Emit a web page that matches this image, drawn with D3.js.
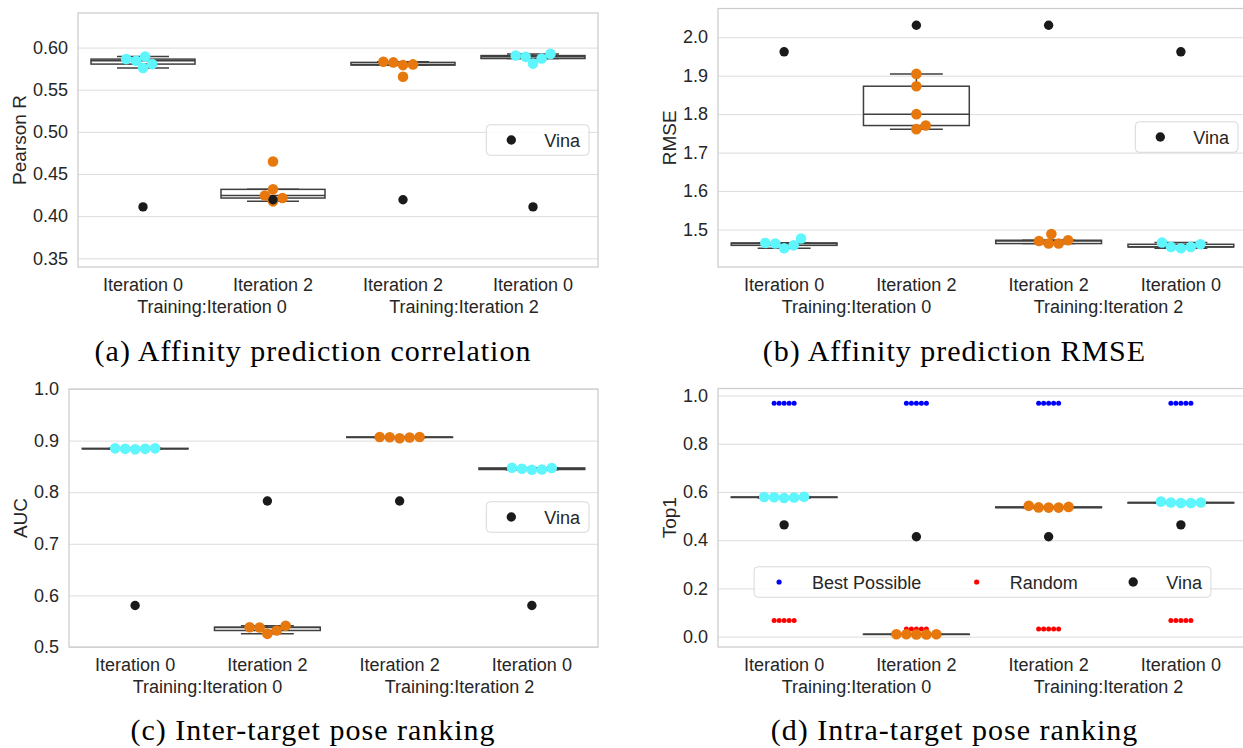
<!DOCTYPE html>
<html>
<head>
<meta charset="utf-8">
<script src="https://cdn.jsdelivr.net/npm/d3@7"></script>
<style>
  body { margin: 0; background: #fff; }
  svg { display: block; font-family: "Liberation Sans", Arial, sans-serif; }
</style>
</head>
<body>
<svg id="chart" width="1243" height="748"></svg>
<script>
// test set per column, grouped two by two under the training set
const categories = ['Iteration 0', 'Iteration 2', 'Iteration 2', 'Iteration 0']
const trainingGroups = ['Training:Iteration 0', 'Training:Iteration 2']
const swarmColors = ['#5ef6fc', '#e6780e', '#e6780e', '#5ef6fc']

// (a) Pearson R, 5 runs per column
const pearsonR = [
  [0.5894, 0.5804, 0.5843, 0.5757, 0.5863],
  [0.4649, 0.4318, 0.4215, 0.4246, 0.4176],
  [0.5831, 0.5800, 0.5792, 0.5824, 0.5654],
  [0.5925, 0.5870, 0.5810, 0.5890, 0.5905]
]
const pearsonVina = [0.411, 0.4195, 0.4195, 0.411]
const pearsonTicks = [0.35, 0.40, 0.45, 0.50, 0.55, 0.60]

// (b) RMSE
const rmse = [
  [1.4766, 1.4590, 1.4514, 1.4636, 1.4652],
  [1.9046, 1.8726, 1.8000, 1.7704, 1.7610],
  [1.4886, 1.4722, 1.4636, 1.4636, 1.4704],
  [1.4617, 1.4550, 1.4514, 1.4550, 1.4665]
]
const rmseVina = [1.962, 2.031, 2.031, 1.962]
const rmseTicks = [1.5, 1.6, 1.7, 1.8, 1.9, 2.0]

// (c) AUC
const auc = [
  [0.885, 0.884, 0.883, 0.884, 0.885],
  [0.541, 0.532, 0.5255, 0.5377, 0.5384],
  [0.907, 0.906, 0.9045, 0.9065, 0.907],
  [0.847, 0.844, 0.8435, 0.8455, 0.8475]
]
const aucVina = [0.5805, 0.783, 0.783, 0.5805]
const aucTicks = [0.5, 0.6, 0.7, 0.8, 0.9, 1.0]

// (d) Top1
const top1 = [
  [0.579, 0.577, 0.575, 0.578, 0.580],
  [0.009, 0.009, 0.010, 0.010, 0.010],
  [0.536, 0.535, 0.535, 0.538, 0.543],
  [0.556, 0.554, 0.554, 0.556, 0.560]
]
const top1Vina = [0.4635, 0.414, 0.414, 0.4635]
const top1Best = [
  [0.968, 0.968, 0.968, 0.968, 0.968],
  [0.968, 0.968, 0.968, 0.968, 0.968],
  [0.968, 0.968, 0.968, 0.968, 0.968],
  [0.968, 0.968, 0.968, 0.968, 0.968]
]
const top1Random = [
  [0.0664, 0.0664, 0.0664, 0.0664, 0.0664],
  [0.0315, 0.0315, 0.0315, 0.0315, 0.0315],
  [0.0315, 0.0315, 0.0315, 0.0315, 0.0315],
  [0.0664, 0.0664, 0.0664, 0.0664, 0.0664]
]
const top1Ticks = [0.0, 0.2, 0.4, 0.6, 0.8, 1.0]

const svg = d3.select('#chart')
const TEXT = '#262626'

// simple beeswarm : lowest value first, each point goes as close to the centre as it can
function swarm(vals, cx, y, diam) {
  const pts = vals.map(v => ({ v, py: y(v), dx: 0 })).sort((a, b) => a.v - b.v)
  const placed = []
  pts.forEach(p => {
    const cands = [0]
    placed.forEach(q => {
      const dy = p.py - q.py
      if (Math.abs(dy) < diam) {
        const off = Math.sqrt(diam * diam - dy * dy)
        cands.push(q.dx + off, q.dx - off)
      }
    })
    cands.sort((a, b) => Math.abs(a) - Math.abs(b))
    p.dx = cands.find(c => placed.every(q => (c - q.dx) ** 2 + (p.py - q.py) ** 2 >= diam * diam - 0.01))
    placed.push(p)
  })
  return pts.map(p => ({ x: cx + p.dx, y: p.py }))
}

function boxStats(vals) {
  const s = vals.slice().sort(d3.ascending)
  const q1 = d3.quantileSorted(s, 0.25), q3 = d3.quantileSorted(s, 0.75)
  const iqr = q3 - q1
  return {
    q1, q3, med: d3.quantileSorted(s, 0.5),
    lo: d3.min(s.filter(v => v >= q1 - 1.5 * iqr)),
    hi: d3.max(s.filter(v => v <= q3 + 1.5 * iqr))
  }
}

function drawPanel(p) {
  const g = svg.append('g')
  const w = p.right - p.left
  const x = d3.scaleBand().domain(d3.range(categories.length)).range([p.left, p.right])
  const y = d3.scaleLinear().domain(p.domain).range([p.bottom, p.top])
  const bw = x.bandwidth()
  const cx = i => x(i) + bw / 2

  // grid + tick labels
  const ax = g.append('g')
    .attr('transform', `translate(${p.left},0)`)
    .call(d3.axisLeft(y).tickValues(p.ticks).tickFormat(d3.format(p.fmt)).tickSize(-w).tickPadding(10))
  ax.select('.domain').remove()
  ax.selectAll('.tick line').attr('stroke', '#dcdcdc').attr('stroke-width', 1)
  ax.selectAll('.tick text')
    .attr('font-size', 18).attr('fill', TEXT)
    .attr('font-family', '"Liberation Sans", Arial, sans-serif')

  g.append('rect')
    .attr('x', p.left).attr('y', p.top)
    .attr('width', w).attr('height', p.bottom - p.top)
    .attr('fill', 'none').attr('stroke', '#cccccc').attr('stroke-width', 1.25)

  // boxes
  p.data.forEach((vals, i) => {
    const s = boxStats(vals)
    const c = cx(i), half = bw * 0.4
    const bg = g.append('g').attr('stroke', '#3f3f3f').attr('stroke-width', 1.5)
    bg.append('line').attr('x1', c).attr('x2', c).attr('y1', y(s.hi)).attr('y2', y(s.q3))
    bg.append('line').attr('x1', c).attr('x2', c).attr('y1', y(s.q1)).attr('y2', y(s.lo))
    bg.append('line').attr('x1', c - half / 2).attr('x2', c + half / 2).attr('y1', y(s.hi)).attr('y2', y(s.hi))
    bg.append('line').attr('x1', c - half / 2).attr('x2', c + half / 2).attr('y1', y(s.lo)).attr('y2', y(s.lo))
    bg.append('rect')
      .attr('x', c - half).attr('width', 2 * half)
      .attr('y', y(s.q3)).attr('height', y(s.q1) - y(s.q3))
      .attr('fill', '#fff')
    bg.append('line').attr('x1', c - half).attr('x2', c + half).attr('y1', y(s.med)).attr('y2', y(s.med))
  })

  // extra small-dot series (panel d)
  ;(p.extra || []).forEach(ser => {
    ser.data.forEach((vals, i) => {
      g.append('g').selectAll('circle')
        .data(swarm(vals, cx(i), y, 5))
        .join('circle')
        .attr('cx', d => d.x).attr('cy', d => d.y).attr('r', 2.5)
        .attr('fill', ser.color)
    })
  })

  // swarm of the 5 runs
  p.data.forEach((vals, i) => {
    g.append('g').selectAll('circle')
      .data(swarm(vals, cx(i), y, 10))
      .join('circle')
      .attr('cx', d => d.x).attr('cy', d => d.y).attr('r', 5.3)
      .attr('fill', swarmColors[i])
  })

  // Vina
  g.append('g').selectAll('circle')
    .data(p.vina)
    .join('circle')
    .attr('cx', (d, i) => cx(i)).attr('cy', d => y(d)).attr('r', 4.7)
    .attr('fill', '#1a1a1a')

  // x labels
  g.append('g').selectAll('text')
    .data(categories)
    .join('text')
    .attr('x', (d, i) => cx(i)).attr('y', p.bottom + 24)
    .attr('text-anchor', 'middle').attr('font-size', 18).attr('fill', TEXT)
    .text(d => d)
  const mid = (p.left + p.right) / 2
  g.append('g').selectAll('text')
    .data(trainingGroups)
    .join('text')
    .attr('x', (d, i) => mid + (i === 0 ? -126 : 126)).attr('y', p.bottom + 45.5)
    .attr('text-anchor', 'middle').attr('font-size', 18).attr('fill', TEXT)
    .text(d => d)

  // y label
  let maxW = 0
  ax.selectAll('.tick text').each(function () { maxW = Math.max(maxW, this.getComputedTextLength()) })
  const lx = p.left - 10 - maxW - 14
  const ly = (p.top + p.bottom) / 2
  g.append('text')
    .attr('transform', `translate(${lx},${ly}) rotate(-90)`)
    .attr('dy', '0.35em')
    .attr('text-anchor', 'middle').attr('font-size', 19).attr('fill', TEXT)
    .text(p.ylabel)

  // caption
  g.append('text')
    .attr('x', p.capX).attr('y', p.capY)
    .attr('text-anchor', 'middle')
    .attr('font-family', '"Liberation Serif", "Times New Roman", serif')
    .attr('font-size', 30).attr('letter-spacing', 1).attr('fill', '#000')
    .text(p.caption)

  // legend
  const lg = g.append('g')
  const box = lg.append('rect')
    .attr('rx', 4).attr('fill', '#fff').attr('fill-opacity', 0.85)
    .attr('stroke', '#d8d8d8').attr('stroke-width', 1)
  let cursor = 25
  p.legend.items.forEach(it => {
    lg.append('circle').attr('cx', cursor).attr('cy', 0).attr('r', it.r).attr('fill', it.color)
    const t = lg.append('text')
      .attr('x', cursor + 33).attr('y', 6.5)
      .attr('font-size', 18).attr('fill', TEXT)
      .text(it.label)
    cursor += 33 + t.node().getComputedTextLength() + 55.5
  })
  const lw = cursor - 55.5 + 9
  const lh = 30.5
  box.attr('x', 0).attr('y', -lh / 2).attr('width', lw).attr('height', lh)
  const lx0 = p.legend.anchor === 'center' ? mid - lw / 2 : p.right - 9 - lw
  lg.attr('transform', `translate(${lx0},${p.legend.y})`)
}

const vinaItem = [{ label: 'Vina', color: '#1a1a1a', r: 4.7 }]

const panels = [
  { left: 78, right: 598, top: 13, bottom: 267, domain: [0.3397, 0.641],
    ticks: pearsonTicks, fmt: '.2f', ylabel: 'Pearson R', data: pearsonR, vina: pearsonVina,
    caption: '(a) Affinity prediction correlation', capX: 313, capY: 361,
    legend: { anchor: 'right', y: 140, items: vinaItem } },
  { left: 718, right: 1247, top: 8.5, bottom: 267, domain: [1.4027, 2.0746],
    ticks: rmseTicks, fmt: '.1f', ylabel: 'RMSE', data: rmse, vina: rmseVina,
    caption: '(b) Affinity prediction RMSE', capX: 954.5, capY: 361,
    legend: { anchor: 'right', y: 137, items: vinaItem } },
  { left: 69, right: 598, top: 389, bottom: 647, domain: [0.5, 1.0],
    ticks: aucTicks, fmt: '.1f', ylabel: 'AUC', data: auc, vina: aucVina,
    caption: '(c) Inter-target pose ranking', capX: 313, capY: 740,
    legend: { anchor: 'right', y: 517, items: vinaItem } },
  { left: 718, right: 1247, top: 388.5, bottom: 647, domain: [-0.043, 1.029],
    ticks: top1Ticks, fmt: '.1f', ylabel: 'Top1', data: top1, vina: top1Vina,
    extra: [{ data: top1Best, color: '#0000ff' }, { data: top1Random, color: '#ff0000' }],
    caption: '(d) Intra-target pose ranking', capX: 954.5, capY: 740,
    legend: { anchor: 'center', y: 582, items: [
      { label: 'Best Possible', color: '#0000ff', r: 2.6 },
      { label: 'Random', color: '#ff0000', r: 2.6 },
      { label: 'Vina', color: '#1a1a1a', r: 4.7 }
    ] } }
]

panels.forEach(drawPanel)
</script>
</body>
</html>
